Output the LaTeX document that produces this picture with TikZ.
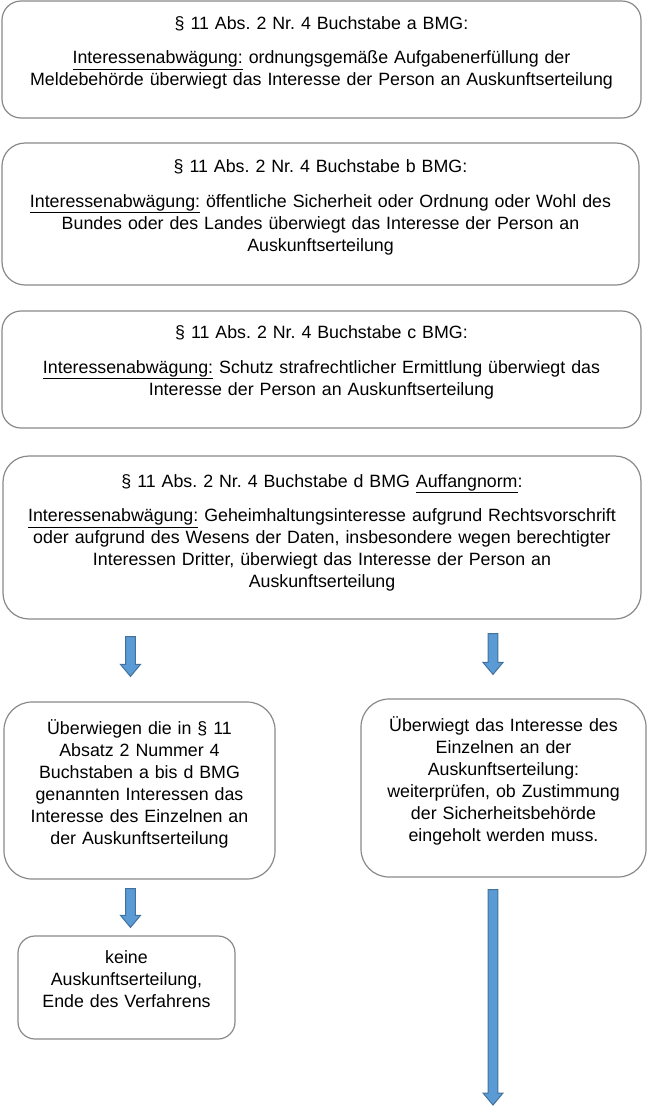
\documentclass[tikz,border=0pt]{standalone}
\usepackage{fontspec}
\setmainfont{Liberation Sans}
\usetikzlibrary{calc}
\frenchspacing

\definecolor{rahmen}{RGB}{137,137,137}
\definecolor{pfeilblau}{RGB}{91,155,213}
\definecolor{pfeilrand}{RGB}{65,113,156}

% Blockpfeil nach unten: #1 Anfang, #2 Spitze
\newcommand{\blockpfeil}[2]{%
  \path[fill=pfeilblau,draw=pfeilrand,line width=1pt,line join=miter]
    let \p1=(#1), \p2=(#2) in
    (\x1-4.8pt,\y1) -- (\x1+4.8pt,\y1) -- (\x1+4.8pt,\y2+12pt) -- (\x1+10pt,\y2+12pt)
    -- (\x1,\y2) -- (\x1-10pt,\y2+12pt) -- (\x1-4.8pt,\y2+12pt) -- cycle;}

\begin{document}
\begin{tikzpicture}[x=1pt,y=-1pt]
  \useasboundingbox (0,0) rectangle (650,1109);

  \begin{scope}[every node/.style={draw=rahmen,line width=1.2pt,align=center,inner sep=0pt,
      font=\fontsize{17.8}{22}\selectfont}]
    \node[minimum width=639pt,minimum height=117pt,text width=625pt,rounded corners=19pt] (a) at (321.5,59.5)
      {§ 11 Abs. 2 Nr. 4 Buchstabe a BMG:\\[12.5pt]
       \underline{Interessenabwägung:} ordnungsgemäße Aufgabenerfüllung der\\
       Meldebehörde überwiegt das Interesse der Person an Auskunftserteilung\\[-5.3pt]\mbox{}};
    \node[minimum width=637pt,minimum height=142pt,text width=625pt,rounded corners=23pt] (b) at (320.5,214)
      {§ 11 Abs. 2 Nr. 4 Buchstabe b BMG:\\[12.5pt]
       \underline{Interessenabwägung:} öffentliche Sicherheit oder Ordnung oder Wohl des\\
       Bundes oder des Landes überwiegt das Interesse der Person an\\
       Auskunftserteilung\\[-5.3pt]\mbox{}};
    \node[minimum width=639pt,minimum height=117pt,text width=625pt,rounded corners=19pt] (c) at (321.5,369.5)
      {§ 11 Abs. 2 Nr. 4 Buchstabe c BMG:\\[12.5pt]
       \underline{Interessenabwägung:} Schutz strafrechtlicher Ermittlung überwiegt das\\
       Interesse der Person an Auskunftserteilung\\[-4.3pt]\mbox{}};
    \node[minimum width=638pt,minimum height=163pt,text width=625pt,rounded corners=26pt] (d) at (322,537.5)
      {§ 11 Abs. 2 Nr. 4 Buchstabe d BMG \underline{Auffangnorm}:\\[12.5pt]
       \underline{Interessenabwägung:} Geheimhaltungsinteresse aufgrund Rechtsvorschrift\\
       oder aufgrund des Wesens der Daten, insbesondere wegen berechtigter\\
       Interessen Dritter, überwiegt das Interesse der Person an\\
       Auskunftserteilung\\[-8.9pt]\mbox{}};
    \node[minimum width=271pt,minimum height=177pt,text width=262pt,rounded corners=28pt] (links) at (139.5,790.5)
      {Überwiegen die in § 11\\
       Absatz 2 Nummer 4\\
       Buchstaben a bis d BMG\\
       genannten Interessen das\\
       Interesse des Einzelnen an\\
       der Auskunftserteilung\\[-4.3pt]\mbox{}};
    \node[minimum width=285pt,minimum height=178pt,text width=275pt,rounded corners=28pt] (rechts) at (503.5,788)
      {Überwiegt das Interesse des\\
       Einzelnen an der\\
       Auskunftserteilung:\\
       weiterprüfen, ob Zustimmung\\
       der Sicherheitsbehörde\\
       eingeholt werden muss.\\[-4.3pt]\mbox{}};
    \node[minimum width=217pt,minimum height=103pt,text width=210pt,rounded corners=17pt] (ende) at (126.5,987.5)
      {keine\\
       Auskunftserteilung,\\
       Ende des Verfahrens\\[-6pt]\mbox{}};
  \end{scope}

  \coordinate (rechtsende) at (493,1105);

  \blockpfeil{$(d.south -| links.north)+(-9,17)$}{$(links.north)+(0,-25)$}
  \blockpfeil{$(d.south -| rechts.north)+(-10.5,14)$}{$(rechts.north)+(0,-24)$}
  \blockpfeil{$(links.south)+(-9,9)$}{$(ende.north)+(0,-8)$}
  \blockpfeil{$(rechts.south)+(-10.5,12)$}{rechtsende}

\end{tikzpicture}
\end{document}
